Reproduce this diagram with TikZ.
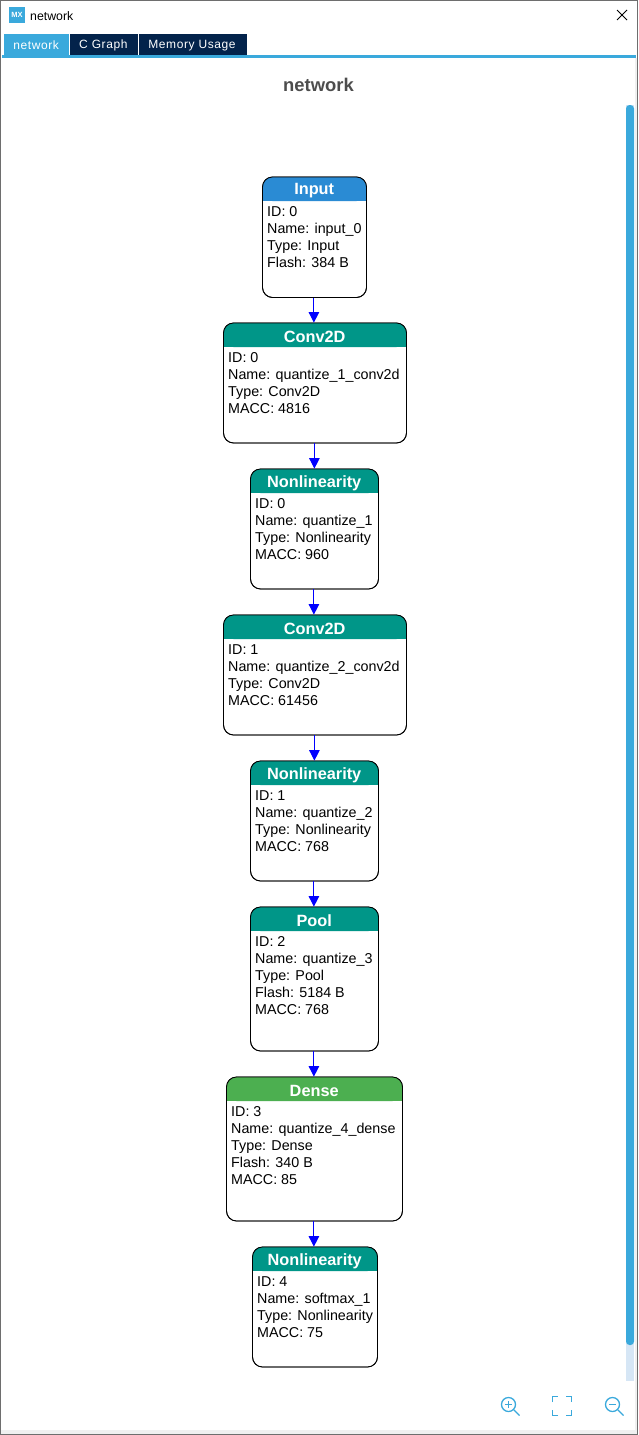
\documentclass[tikz,border=0pt]{standalone}
\usepackage{fontspec}
\setmainfont{Liberation Sans}
\usetikzlibrary{arrows.meta}
\definecolor{tabblue}{HTML}{3AA9DC}
\definecolor{navy}{HTML}{03234B}
\definecolor{inputblue}{HTML}{2A8BD4}
\definecolor{teal}{HTML}{009688}
\definecolor{densegreen}{HTML}{4CAF50}
\definecolor{track}{HTML}{D6E6F5}
\definecolor{edgegray}{HTML}{6E6E6E}
\definecolor{titlegray}{HTML}{4D4D4D}
\tikzset{
  cardbox/.style={draw=black,line width=0.8pt,fill=white,rounded corners=10pt,inner sep=0pt},
  cardframe/.style={draw=black,line width=0.8pt,rounded corners=10pt},
  cardtitle/.style={text=white,inner sep=0pt,font=\fontsize{16.3}{18}\selectfont\bfseries},
  cardtext/.style={anchor=north west,align=left,inner sep=0pt,text=black,font=\fontsize{14.3}{17}\selectfont},
  flow/.style={draw=blue,line width=1pt,-{Triangle[length=10.5pt,width=10.5pt,fill=blue]}},
  tabbox/.style={minimum height=21pt,inner sep=0pt,text=white,font=\fontsize{12}{14}\selectfont\addfontfeature{LetterSpace=5}},
  icon/.style={draw=tabblue,line width=1.3pt},
}
% #1 name, #2 x0, #3 x1, #4 y0, #5 y1, #6 colour, #7 title, #8 text
\newcommand\card[8]{%
  \pgfmathsetmacro\cw{#3-#2}\pgfmathsetmacro\ch{#5-#4}%
  \pgfmathsetmacro\cx{(#2+#3)/2}\pgfmathsetmacro\cy{(#4+#5)/2}%
  \node[cardbox,minimum width=\cw pt,minimum height=\ch pt] (#1) at (\cx,\cy) {};
  \fill[#6,rounded corners=10pt] (#2,#4+24) -- (#2,#4) -- (#3,#4) -- (#3,#4+24) -- cycle;
  \fill[#6] (#2,#4+14) rectangle (#3,#4+24);
  \draw[cardframe] (#2,#4) rectangle (#3,#5);
  \node[cardtitle] (#1-title) at (\cx-0.3,#4+14) {#7};
  \node[cardtext] (#1-text) at (#2+4.5,#4+29) {#8};
}
\begin{document}
\begin{tikzpicture}[x=1pt,y=-1pt]
\useasboundingbox (0,0) rectangle (638,1435);
\fill[white] (0,0) rectangle (638,1435);
% window bottom strip and frame
\fill[black!6] (0,1430) rectangle (638,1435);
\fill[black!6] (634.5,58) rectangle (638,1435);
\draw[edgegray,line width=1pt] (0.5,0.5) rectangle (637.5,1434.5);
% title bar
\fill[tabblue] (9,7) rectangle (25,23);
\node[text=white,inner sep=0pt,font=\fontsize{7.5}{8}\selectfont\bfseries] (mx) at (17,15) {MX};
\node[anchor=west,inner sep=0pt,font=\fontsize{12.3}{14}\selectfont] (wintitle) at (30,16) {network};
\coordinate (xa) at (617,10);\coordinate (xb) at (627,20);\coordinate (xc) at (627,10);\coordinate (xd) at (617,20);
\draw[black,line width=1pt] (xa) -- (xb) (xc) -- (xd);
% tabs
\node[tabbox,fill=tabblue,minimum width=65pt] (tab1) at (36.5,44.5) {};
\node[tabbox,fill=navy,minimum width=68pt] (tab2) at (104,44.5) {};
\node[tabbox,fill=navy,minimum width=108pt] (tab3) at (193,44.5) {};
\node[tabbox] (tab1t) at (36.2,45.7) {network};
\node[tabbox] (tab2t) at (103.4,45.7) {C Graph};
\node[tabbox] (tab3t) at (192,45.7) {Memory Usage};
\fill[tabblue] (2,55) rectangle (636,58);
% heading
\node[text=titlegray,inner sep=0pt,font=\fontsize{18.4}{20}\selectfont\bfseries] (heading) at (318.5,85) {network};
% scrollbar
\fill[track] (626,105) rectangle (634,1381);
\fill[tabblue,rounded corners=3.5pt] (626,105) rectangle (634,1345);
% cards
\card{input}{262.5}{366.5}{177}{297.5}{inputblue}{Input}{ID: 0\\Name: input\_0\\Type: Input\\Flash: 384 B}
\card{convA}{223.5}{406.5}{323}{443}{teal}{Conv2D}{ID: 0\\Name: quantize\_1\_conv2d\\Type: Conv2D\\MACC: 4816}
\card{nlA}{250.5}{378.5}{469}{589}{teal}{Nonlinearity}{ID: 0\\Name: quantize\_1\\Type: Nonlinearity\\MACC: 960}
\card{convB}{223.5}{406.5}{615}{735}{teal}{Conv2D}{ID: 1\\Name: quantize\_2\_conv2d\\Type: Conv2D\\MACC: 61456}
\card{nlB}{250.5}{378.5}{761}{881}{teal}{Nonlinearity}{ID: 1\\Name: quantize\_2\\Type: Nonlinearity\\MACC: 768}
\card{pool}{250.5}{378.5}{907}{1051}{teal}{Pool}{ID: 2\\Name: quantize\_3\\Type: Pool\\Flash: 5184 B\\MACC: 768}
\card{dense}{226.5}{402.5}{1077}{1221}{densegreen}{Dense}{ID: 3\\Name: quantize\_4\_dense\\Type: Dense\\Flash: 340 B\\MACC: 85}
\card{nlC}{252.5}{377.5}{1247}{1367}{teal}{Nonlinearity}{ID: 4\\Name: softmax\_1\\Type: Nonlinearity\\MACC: 75}
% connectors
\foreach \a/\b in {input/convA,convA/nlA,nlA/convB,convB/nlB,nlB/pool,pool/dense,dense/nlC}{
  \draw[flow] ([xshift=-0.6pt]\a.south) -- ([xshift=-0.6pt]\a.south |- \b.north);
}
% zoom controls
\node[circle,icon,minimum size=14pt,inner sep=0pt] (zin) at (508.5,1404.5) {};
\node[circle,icon,minimum size=14pt,inner sep=0pt] (zout) at (612.5,1404.5) {};
\coordinate (zinend) at (519.5,1415.5);\coordinate (zoutend) at (623.5,1415.5);
\draw[icon] (zin.south east) -- (zinend);
\draw[icon] (zout.south east) -- (zoutend);
\draw[icon] (505,1404.5) -- (512,1404.5) (508.5,1401) -- (508.5,1408);
\draw[icon] (609,1404.5) -- (616,1404.5);
\draw[icon] (552.5,1402) -- (552.5,1396.5) -- (558,1396.5) (566,1396.5) -- (571.5,1396.5) -- (571.5,1402)
            (571.5,1410) -- (571.5,1415.5) -- (566,1415.5) (558,1415.5) -- (552.5,1415.5) -- (552.5,1410);
\end{tikzpicture}
\end{document}
